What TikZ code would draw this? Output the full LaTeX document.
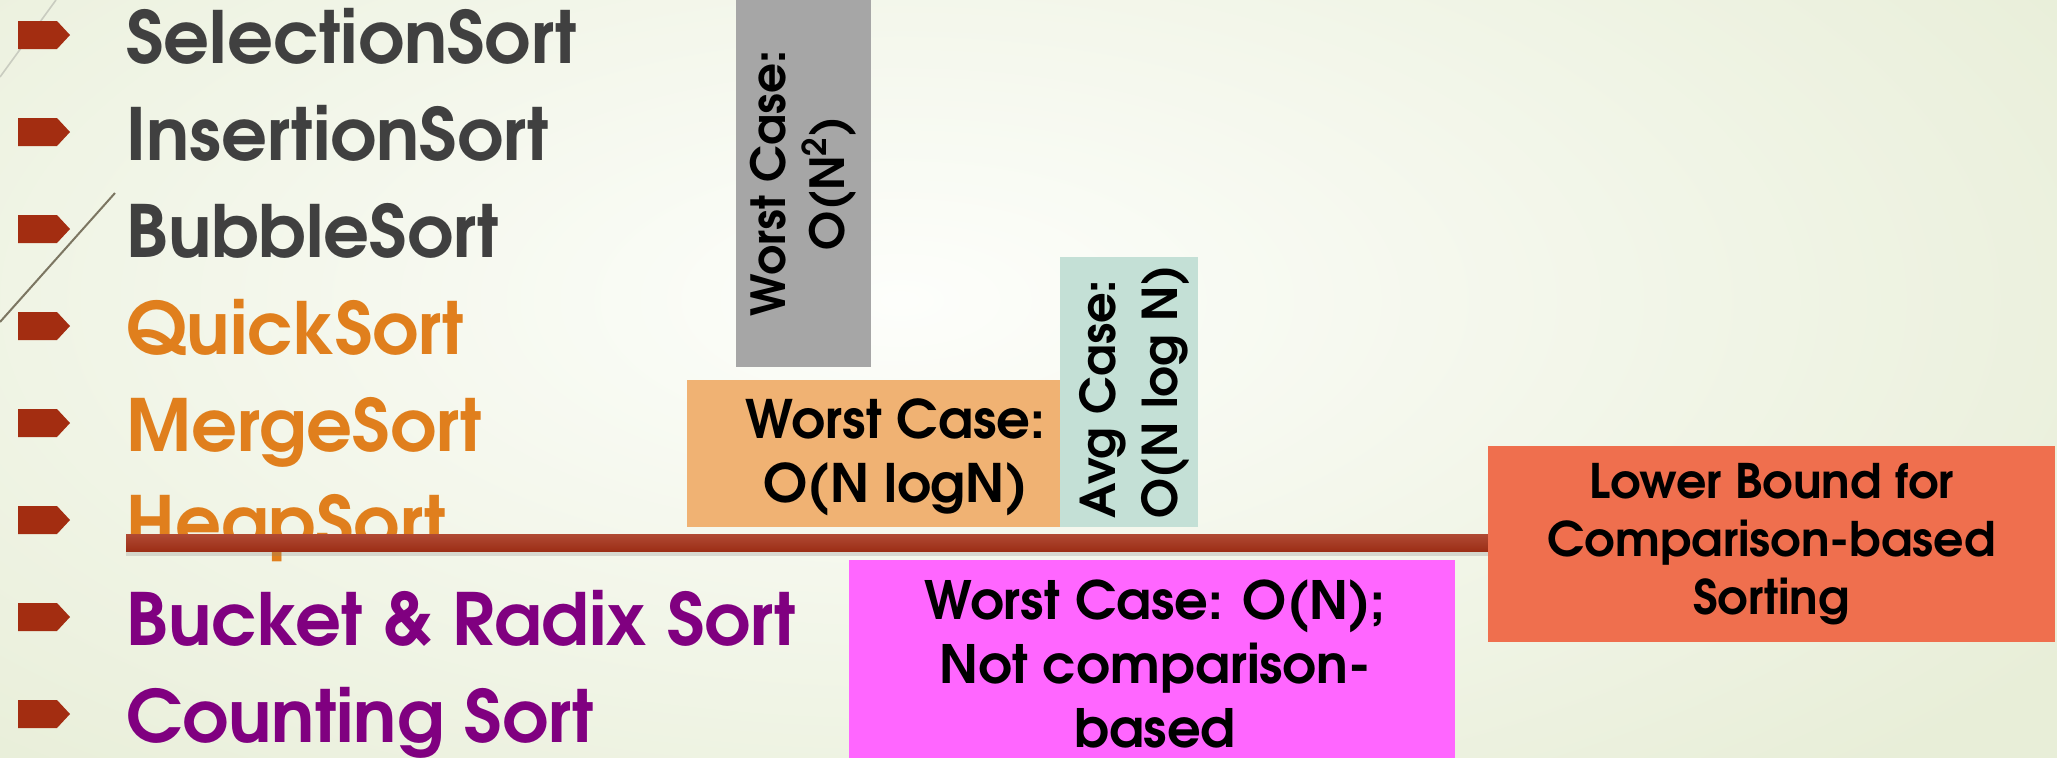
\documentclass[tikz,border=0pt]{standalone}
\usepackage{fontspec}
\usepackage{graphicx}
\setmainfont{texgyreadventor}[Extension=.otf, UprightFont=*-regular, BoldFont=*-bold]
\usetikzlibrary{shadows}

\definecolor{bgedge}{HTML}{E8EED8}
\definecolor{bgmid}{HTML}{FDFEFB}
\definecolor{linegray}{HTML}{C9CCC0}
\definecolor{lineolive}{HTML}{7C7662}
\definecolor{bulletred}{HTML}{A32D11}
\definecolor{listgray}{HTML}{404040}
\definecolor{listorange}{HTML}{E07F1D}
\definecolor{listpurple}{HTML}{800080}
\definecolor{graybox}{HTML}{A6A6A6}
\definecolor{orangebox}{HTML}{F0B273}
\definecolor{tealbox}{HTML}{C4E0D6}
\definecolor{pinkbox}{HTML}{FF66FF}
\definecolor{lowerbox}{HTML}{EF6F4E}
\definecolor{barlight}{HTML}{B04A34}
\definecolor{bardark}{HTML}{9C2E16}

\tikzset{
  item/.style={anchor=base west, inner sep=0pt, font=\fontsize{36}{40}\selectfont\bfseries},
  box/.style={inner sep=0pt, outer sep=0pt},
  lbl/.style={align=center, inner sep=0pt, font=\fontsize{24}{31}\selectfont\bfseries},
}

\begin{document}
\begin{tikzpicture}[x=0.5pt,y=-0.5pt]
  \useasboundingbox (0,0) rectangle (2057,757);
  \shade[inner color=bgmid, outer color=bgedge] (-500,-350) rectangle (2300,950);

  % slide decoration
  \draw[linegray, line width=0.8pt] (0,77) -- (56,0);
  \draw[lineolive, line width=1pt] (115,193) -- (0,322);

  % the sorts
  \foreach \txt/\col [count=\i from 0] in {SelectionSort/listgray, InsertionSort/listgray,
      BubbleSort/listgray, QuickSort/listorange, MergeSort/listorange, HeapSort/listorange,
      Bucket \& Radix Sort/listpurple, Counting Sort/listpurple} {
    \fill[bulletred] (18,21+97*\i) -- ++(39,0) -- ++(13,14) -- ++(-13,14) -- ++(-39,0) -- cycle;
    \node[item, text=\col] (s\i) at (126,63+97*\i) {\txt};
  }

  % bounds
  \node[box, fill=graybox, minimum width=67.5pt, minimum height=183.5pt] (quad) at (803.5,183.5) {};
  \node[lbl, rotate=90, font=\fontsize{23.5}{29.5}\selectfont\bfseries] (quadtxt) at (quad.center)
    {Worst Case:\\O(N\textsuperscript{2})};
  \node[box, fill=orangebox, minimum width=186.5pt, minimum height=73.5pt] (nlogn) at (873.5,453.5) {};
  \node[lbl, font=\fontsize{26.5}{32}\selectfont\bfseries] (nlogntxt) at ([xshift=11pt,yshift=-2pt]nlogn.center)
    {Worst Case:\\O(N logN)};
  \node[box, fill=tealbox, minimum width=69pt, minimum height=135pt] (avg) at (1129,392) {};
  \node[lbl, rotate=90, align=left, font=\fontsize{24}{31}\selectfont\bfseries] (avgtxt) at ([xshift=3pt]avg.center)
    {Avg Case:\\O(N log N)};

  \node[box, top color=barlight, bottom color=bardark, minimum width=681.5pt, minimum height=8.5pt,
    drop shadow={opacity=0.25, shadow xshift=0pt, shadow yshift=-2.5pt}] (bar) at (807.5,542.5) {};

  \node[box, fill=pinkbox, minimum width=303pt, minimum height=100pt] (linear) at (1152,660) {};
  \node[lbl, font=\fontsize{26.4}{32}\selectfont\bfseries] (lineartxt) at (1155,664)
    {Worst Case: O(N);\\Not comparison-\\based};
  \node[box, fill=lowerbox, minimum width=283.5pt, minimum height=98pt] (lower) at (1771.5,544) {};
  \node[lbl, font=\fontsize{23.8}{29}\selectfont\bfseries] (lowertxt) at (lower.center)
    {Lower Bound for\\Comparison-based\\Sorting};
\end{tikzpicture}
\end{document}
